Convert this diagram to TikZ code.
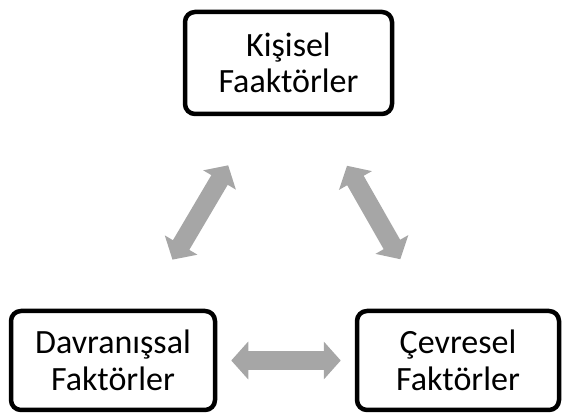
\documentclass[tikz,border=0pt]{standalone}
\usepackage{fontspec}
\setmainfont{Carlito}
\usepackage{tikz}
\usetikzlibrary{arrows.meta}
\definecolor{cArr}{HTML}{A6A6A6}
\tikzset{
  fbox/.style={draw, line width=4.5pt, rounded corners=10pt, align=center,
               inner sep=0pt, minimum height=99pt, minimum width=#1,
               font=\fontsize{34}{36.5}\selectfont},
  farr/.style={{Triangle[length=17pt,width=37pt]}-{Triangle[length=17pt,width=37pt]},
               line width=19pt, draw=cArr, shorten <=#1, shorten >=#1},
}

\begin{document}
\begin{tikzpicture}[x=1pt,y=1pt]
\useasboundingbox (0,0) rectangle (562,417);
\node[fbox=207pt, minimum height=102pt] (kisi) at (288.5,354) {Kişisel\\Faaktörler};
\node[fbox=204pt] (davr) at (113,56.5) {Davranışsal\\Faktörler};
\node[fbox=202pt] (cevr) at (458,56.5) {Çevresel\\Faktörler};
\draw[farr=57pt] (kisi) -- (davr);
\draw[farr=57pt] (kisi) -- (cevr);
\draw[farr=14pt] (davr) -- (cevr);
\end{tikzpicture}
\end{document}
